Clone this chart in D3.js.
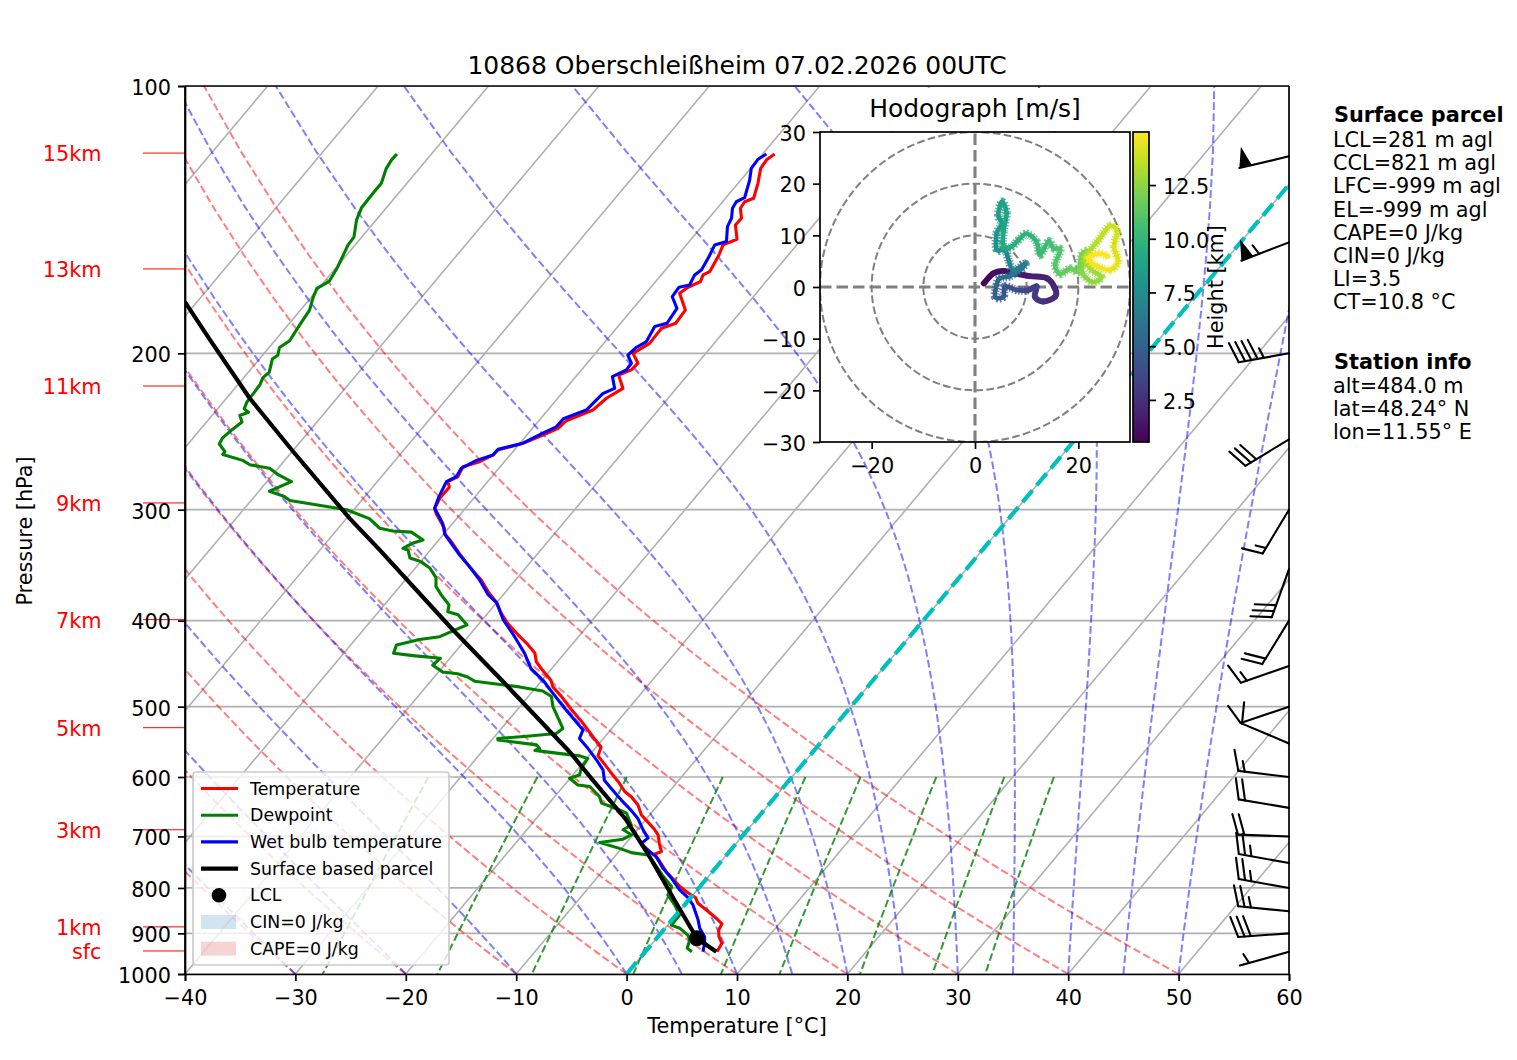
<!DOCTYPE html>
<html>
<head>
<meta charset="utf-8">
<script src="https://cdn.jsdelivr.net/npm/d3@7"></script>
<style>
body { margin: 0; background: #fff; }
text { font-family: "DejaVu Sans", sans-serif; fill: #000; }
</style>
</head>
<body>
<div id="chart"></div>
<script>
// sounding
var tempP = [943.8,923.5,907.8,892,878,862,847,832.5,820,810,797,782,767,747,733,728,713,697,688,674,662,645,631.5,623,607,600,584,568,555,540.5,522,504,487,475,467,455,445,435,424,415,403,392.5,381,371,360,348,337,326,319,315,303,299,291,283,279,275.4,268.4,264.9,260.3,257,252.5,247.2,242.9,238.2,231.7,224.7,219,211.6,208.8,205.2,200,194.9,187.4,185,178.8,171.2,168.5,166.1,163.2,161.8,155,151,148.8,143.4,140.9,137.3,135,133.8,128.7,123.8,121.1,119.3];
var tempT = [6.49,6.3,5.53,4.99,4.83,3.61,2.36,1.09,0.42,-0.63,-1.83,-3.0,-4.18,-5.54,-6.58,-6.15,-6.95,-7.73,-8.41,-9.65,-10.75,-11.82,-13.05,-14.04,-15.4,-16.08,-17.59,-19.17,-19.57,-21.09,-23.0,-25.07,-26.99,-28.5,-29.17,-30.69,-31.91,-32.71,-34.22,-35.61,-37.4,-38.76,-40.1,-41.61,-43.11,-45.17,-46.97,-48.73,-49.97,-50.35,-52.25,-52.78,-53.09,-53.06,-53.6,-53.07,-53.38,-52.25,-51.55,-51.48,-49.73,-48.54,-47.69,-47.51,-45.92,-45.59,-44.85,-46.25,-45.48,-45.39,-46.6,-45.85,-45.92,-45.01,-45.14,-46.93,-46.63,-45.93,-46.21,-45.85,-46.28,-46.68,-45.84,-47.07,-47.04,-47.89,-48.0,-47.45,-48.2,-49.09,-49.2,-48.91];

var wetP = [943.8,923.5,907.8,888,869,836,820,804,780,760,738,728,713,703,688,668,654,637,618,605,589,574,557,543,531,502,483,466.6,453,435.4,417,399,382,374,360,347.8,337.4,320,311,298.9,290,279,275.4,269.5,264,260.3,256.5,252.5,246.5,242,237,231.7,222,219,212.5,208.8,205.2,201,197,194,186.6,185,178,172.7,168.5,167.5,163.2,161,155.7,151,149.7,144,140.9,137.3,135,133.6,127.6,123.8,120.9,119.3];
var wetT = [5.22,4.73,4.23,3.14,2.36,0.76,-0.28,-1.59,-3.22,-4.75,-6.22,-7.21,-8.6,-8.39,-9.47,-10.81,-12.04,-13.7,-15.5,-16.74,-17.65,-19.0,-20.66,-22.17,-22.5,-25.81,-28.0,-29.93,-31.87,-33.61,-35.78,-38.11,-39.97,-41.37,-43.26,-45.17,-46.97,-49.85,-50.89,-52.78,-53.28,-53.74,-53.22,-53.41,-52.63,-51.55,-51.53,-49.73,-48.77,-47.96,-47.93,-46.51,-46.28,-45.6,-46.68,-45.93,-45.99,-46.92,-46.75,-46.27,-46.66,-45.8,-46.03,-47.34,-47.45,-46.66,-46.97,-46.74,-47.06,-47.43,-46.62,-47.67,-47.94,-48.61,-48.76,-48.31,-49.2,-49.94,-50.02,-49.66];

var dewP = [943.8,935.5,915.6,904,888,881,858,836,815,797,774,754,734.5,730,722,711,705,697,688,679.5,659,651,642,631.5,615,612.6,602,597,587,572,568,564,560,557,552,545,543,539.5,536,529,515,500,487,480,475,468,463,459,457,449,441,438,435.4,426,420,417,404.5,394,391,384,374.3,366,358,349,343,340,333,331.6,327,324.5,318,317,314.8,307,300,293,290,286,279,274,269.5,267,264,260,258,253,249,245,239,235,233,231,227,217,213,210,203,201,197,193.6,186,178.8,173,169,166,160,151,148,141.5,137,132,128.7,123.8,121.1,119.3];
var dewT = [4.22,3.54,3.13,2.59,1.33,0.33,0.32,-0.9,-2.26,-2.58,-4.27,-5.66,-7.11,-8.8,-10.19,-12.43,-10.57,-10.14,-11.28,-10.9,-12.24,-13.52,-15.26,-15.92,-17.58,-18.78,-20.04,-19.38,-19.74,-19.9,-20.82,-23.14,-25.3,-25.04,-25.58,-29.44,-29.57,-26.88,-24.66,-24.44,-25.65,-26.99,-27.9,-29.11,-31.52,-36.03,-36.97,-38.13,-39.61,-41.03,-40.87,-43.55,-45.48,-45.86,-44.18,-42.57,-40.99,-42.56,-43.72,-44.14,-45.59,-46.73,-47.37,-48.68,-50.08,-51.25,-52.03,-52.62,-52.09,-51.43,-53.07,-54.86,-56.24,-57.91,-60.65,-66.49,-67.26,-69.05,-67.78,-69.51,-70.77,-72.83,-73.81,-76.06,-76.1,-77.18,-77.34,-77.17,-76.79,-77.48,-76.95,-77.59,-77.86,-78.0,-78.27,-78.11,-78.83,-78.62,-79.06,-78.65,-78.94,-79.18,-79.82,-80.16,-79.58,-79.9,-80.64,-80.7,-81.78,-82.26,-82.31,-82.31,-83.0,-83.17,-83.12];

var parcelP = [943.8,911.6,832.5,737.7,670.8,602,562,470.6,408,333,306.8,258,224.7,192.9,175];
var parcelT = [6.43,3.65,-0.87,-6.83,-11.73,-18.07,-22.06,-33.14,-42.15,-54.6,-59.72,-69.92,-77.9,-86.0,-91.1];
var lclP = 911.6, lclT = 3.65;

// wind barbs
var barbP = [120,150,200,250,300,350,400,450,500,550,600,650,700,750,800,850,900,944];
var barbSpeed = [50,55,45,30,15,30,20,15,10,10,15,20,20,25,25,25,30,5];
var barbDir = [256.7,249,260,238.8,211,199.7,211.6,250.9,251.3,292.9,276.9,279.6,272,280.3,280,275.7,266,254.3];

// hodograph
var hodoU = [1.7,3.5,5.5,7.7,10.6,13.9,15.5,15.5,13.2,11.6,11.9,10.3,8.1,5.8,5.5,3.9,4.2,4.8,6.8,9,9.7,7.4,6.5,5.8,4.2,4.2,5.2,4.5,5.2,6.1,5.5,5.5,7.1,8.4,10,11.9,12.6,14.2,15.2,16.5,15.5,16.5,18.4,20,20.6,21.9,20.6,22.6,24.5,22.6,21.3,23.9,26.1,27.5,26.9,27.7,26.1,23.5,21.9,23.9,25.8];
var hodoV = [0.7,2.6,3.1,2.6,2.1,1.7,-0.3,-1.9,-2.8,-1.9,0.1,-0.6,-0.6,0.1,-1.9,-1.9,0.4,1.7,2.1,3.6,4.5,3.3,5.2,7.2,7.2,10.4,12.3,13.9,16.5,14.3,10.7,7.8,7.8,9.1,10.3,8.8,6.2,8.8,7.5,7.2,4.3,2.5,3.6,3,6.2,6.8,3.3,1,1.9,3.3,5.5,9.1,11.8,10.7,7.8,4.9,3.3,4.1,5.5,6.5,5.9];
var hodoH = [0.5,0.8,1,1.2,1.5,1.8,2,2.2,2.4,2.7,3,3.3,3.6,4,4.3,4.6,5,5.3,5.7,6,6.2,6.6,7,7.3,7.7,8,8.2,8.4,8.6,8.8,9,9.2,9.4,9.6,9.8,10,10.2,10.4,10.6,10.8,11,11.2,11.4,11.7,11.9,12,12.2,12.4,12.6,12.8,13,13.3,13.6,13.8,14,14.2,14.4,14.6,14.7,14.85,14.95];
var hodoRings = [10,20,30];
var heightRange = [0.54,14.97];
var heightTicks = [2.5,5,7.5,10,12.5];

// axis ticks and labels
var tempTicks = [-40,-30,-20,-10,0,10,20,30,40,50,60];
var pressureTicks = [100,200,300,400,500,600,700,800,900,1000];
var isotherms = d3.range(-100,61,10);
var heightLabels = ["15km","13km","11km","9km","7km","5km","3km","1km","sfc"];
var heightP = [119,160.7,217.7,294.8,399,528,688,885,942];

// background thermodynamic lines: start temperatures at 1000 hPa, mixing ratios
var dryStart = d3.range(-40,51,10);
var moistStart = [-40,-30,-20,-10,0,5,10,15,20,25,30,35,40,45,50];
var mixingRatios = [0.0004,0.001,0.002,0.004,0.007,0.01,0.016,0.024,0.032];

var parcelInfo = ["LCL=281 m agl","CCL=821 m agl","LFC=-999 m agl","EL=-999 m agl","CAPE=0 J/kg","CIN=0 J/kg","LI=3.5","CT=10.8 °C"];
var stationInfo = ["alt=484.0 m","lat=48.24° N","lon=11.55° E"];

var width = 1517, height = 1060;
var left = 185, right = 1289, top_ = 86, bottom = 974;
var skew = Math.tan(40 * Math.PI / 180);
var fontSize = 20.8;

var svg = d3.select("#chart").append("svg")
	.attr("width", width).attr("height", height)
	.style("display", "block");

var x = d3.scaleLinear().domain([-40,60]).range([left,right]);
var y = d3.scaleLog().domain([1000,100]).range([bottom,top_]);

function sx(T, p) {
	return x(T) + skew * (bottom - y(p));
}
var line = d3.line().x(d => sx(d[0], d[1])).y(d => y(d[1]));

svg.append("clipPath").attr("id", "plot").append("rect")
	.attr("x", left).attr("y", top_).attr("width", right - left).attr("height", bottom - top_);
var plot = svg.append("g").attr("clip-path", "url(#plot)");

// grid
plot.selectAll(".iso").data(pressureTicks).enter().append("line")
	.attr("x1", left).attr("x2", right)
	.attr("y1", d => y(d)).attr("y2", d => y(d))
	.attr("stroke", "#b0b0b0").attr("stroke-width", 1.7);
plot.selectAll(".isot").data(isotherms).enter().append("line")
	.attr("x1", d => sx(d, 1000)).attr("x2", d => sx(d, 100))
	.attr("y1", y(1000)).attr("y2", y(100))
	.attr("stroke", "#b0b0b0").attr("stroke-width", 1.6);

var levels = d3.range(50).map(i => 1000 - i * 900 / 49);

// dry adiabats
dryStart.forEach(function(t0) {
	var pts = levels.map(p => [(t0 + 273.15) * Math.pow(p / 1000, 0.2857) - 273.15, p]);
	plot.append("path").attr("d", line(pts)).attr("fill", "none")
		.attr("stroke", "red").attr("stroke-opacity", 0.5).attr("stroke-width", 2)
		.attr("stroke-dasharray", "7.7,3.3");
});

// moist adiabats
function moistRate(p, T) {
	var es = 6.112 * Math.exp(17.67 * (T - 273.15) / (T - 29.65));
	var rs = 0.622 * es / (p - es);
	return (287.04 * T + 2.501e6 * rs) / (1005.7 + 2.501e6 * 2.501e6 * rs * 0.622 / (287.04 * T * T)) / p;
}
moistStart.forEach(function(t0) {
	var T = t0 + 273.15, pts = [[t0, 1000]];
	for (var i = 1; i < levels.length; i++) {
		var p = levels[i - 1], h = levels[i] - p;
		var k1 = moistRate(p, T);
		var k2 = moistRate(p + h / 2, T + h / 2 * k1);
		var k3 = moistRate(p + h / 2, T + h / 2 * k2);
		var k4 = moistRate(p + h, T + h * k3);
		T += h / 6 * (k1 + 2 * k2 + 2 * k3 + k4);
		pts.push([T - 273.15, levels[i]]);
	}
	plot.append("path").attr("d", line(pts)).attr("fill", "none")
		.attr("stroke", "blue").attr("stroke-opacity", 0.5).attr("stroke-width", 2)
		.attr("stroke-dasharray", "7.7,3.3");
});

// mixing ratio lines
var mixLevels = d3.range(50).map(i => 600 + i * 400 / 49);
mixingRatios.forEach(function(w) {
	var pts = mixLevels.map(function(p) {
		var e = p * w / (0.622 + w), l = Math.log(e / 6.112);
		return [243.5 * l / (17.67 - l), p];
	});
	plot.append("path").attr("d", line(pts)).attr("fill", "none")
		.attr("stroke", "green").attr("stroke-opacity", 0.8).attr("stroke-width", 2)
		.attr("stroke-dasharray", "7.7,3.3");
});

// sounding
function profile(ps, ts, color, w) {
	plot.append("path").attr("d", line(ps.map((p, i) => [ts[i], p])))
		.attr("fill", "none").attr("stroke", color).attr("stroke-width", w)
		.attr("stroke-linejoin", "round");
}
profile(tempP, tempT, "red", 3.1);
profile(dewP, dewT, "green", 3.1);
profile(wetP, wetT, "blue", 3.1);

plot.append("line")
	.attr("x1", sx(0, 1000)).attr("y1", y(1000)).attr("x2", sx(0, 100)).attr("y2", y(100))
	.attr("stroke", "#00bfbf").attr("stroke-width", 4.2).attr("stroke-dasharray", "15.4,6.6");

profile(parcelP, parcelT, "black", 4.2);
plot.append("circle").attr("cx", sx(lclT, lclP)).attr("cy", y(lclP)).attr("r", 8).attr("fill", "black");

// height ticks
heightP.forEach(function(p, i) {
	svg.append("line").attr("x1", 143).attr("x2", left).attr("y1", y(p)).attr("y2", y(p))
		.attr("stroke", "red").attr("stroke-width", 1);
	svg.append("text").attr("x", 101.5).attr("y", y(p)).attr("dy", "0.4em")
		.attr("text-anchor", "end").style("fill", "red").style("font-size", fontSize + "px")
		.text(heightLabels[i]);
});

// barbs
var staff = 51, barbH = staff * 0.4, barbW = staff * 0.25, barbS = staff * 0.125;
var barbs = svg.append("g");
barbP.forEach(function(p, i) {
	var a = barbDir[i] * Math.PI / 180;
	var dx = Math.sin(a), dy = -Math.cos(a);
	var bx = right, by = y(p);
	var tx = bx + staff * dx, ty = by + staff * dy;
	// point at distance o from the staff end, h off to the side
	function pt(o, h) {
		return [tx - o * dx - h * dy, ty - o * dy + h * dx];
	}
	var g = barbs.append("g");
	g.append("line").attr("x1", bx).attr("y1", by).attr("x2", tx).attr("y2", ty)
		.attr("stroke", "black").attr("stroke-width", 2.1).attr("stroke-linecap", "round");
	var v = barbSpeed[i], off = 0;
	var flags = Math.floor(v / 50);
	v -= flags * 50;
	var full = Math.floor(v / 10);
	v -= full * 10;
	var half = v >= 5 ? 1 : 0;
	for (var f = 0; f < flags; f++) {
		if (off != 0) off -= barbS / 2;
		g.append("polygon").attr("fill", "black")
			.attr("points", [pt(off, 0), pt(off + barbW / 2, barbH), pt(off + barbW, 0)].join(" "));
		off += barbW + barbS;
	}
	function tick(o, h, along) {
		var a0 = pt(o, 0), a1 = pt(o - along, h);
		g.append("line").attr("x1", a0[0]).attr("y1", a0[1]).attr("x2", a1[0]).attr("y2", a1[1])
			.attr("stroke", "black").attr("stroke-width", 2.1).attr("stroke-linecap", "round");
	}
	for (var b = 0; b < full; b++) {
		tick(off, barbH, barbW / 2);
		off += barbS;
	}
	if (half) {
		if (off == 0) off = 1.5 * barbS;
		tick(off, barbH / 2, barbW / 4);
	}
});

// axes
var minus = d => String(d).replace("-", "\u2212");
function styleAxis(g, size) {
	g.selectAll("text").style("font-size", size + "px");
	g.selectAll("line").attr("stroke-width", 1.7).attr("stroke", "#000");
	g.selectAll("path").attr("stroke-width", 1.7).attr("stroke", "#000");
}
svg.append("line").attr("x1", left).attr("x2", left).attr("y1", top_).attr("y2", bottom).attr("stroke", "#000").attr("stroke-width", 1.7);
svg.append("line").attr("x1", right).attr("x2", right).attr("y1", top_).attr("y2", bottom).attr("stroke", "#000").attr("stroke-width", 1.7);
svg.append("line").attr("x1", left).attr("x2", right).attr("y1", top_).attr("y2", top_).attr("stroke", "#000").attr("stroke-width", 1.7);
var gx = svg.append("g").attr("transform", `translate(0,${bottom})`)
	.call(d3.axisBottom(x).tickValues(tempTicks).tickFormat(minus).tickSize(7).tickPadding(9));
styleAxis(gx, fontSize);
var gy = svg.append("g").attr("transform", `translate(${left},0)`)
	.call(d3.axisLeft(y).tickValues(pressureTicks).tickFormat(d => d).tickSize(7).tickPadding(7));
styleAxis(gy, fontSize);
gy.selectAll("text").attr("dy", "0.4em");

svg.append("text").attr("x", 737).attr("y", 1033).attr("text-anchor", "middle")
	.style("font-size", fontSize + "px").text("Temperature [°C]");
svg.append("text").attr("transform", "translate(32,531) rotate(-90)").attr("text-anchor", "middle")
	.style("font-size", fontSize + "px").text("Pressure [hPa]");
svg.append("text").attr("x", 737).attr("y", 74).attr("text-anchor", "middle")
	.style("font-size", "25px").text("10868 Oberschleißheim 07.02.2026 00UTC");

// legend
var legend = svg.append("g");
legend.append("rect").attr("x", 193).attr("y", 772).attr("width", 256).attr("height", 193).attr("rx", 3)
	.attr("fill", "#fff").attr("fill-opacity", 0.8).attr("stroke", "#ccc").attr("stroke-width", 1.7);
var legendNames = ["Temperature","Dewpoint","Wet bulb temperature","Surface based parcel","LCL","CIN=0 J/kg","CAPE=0 J/kg"];
var legendColors = ["red","green","blue","black","black","#1f77b4","#d62728"];
legendNames.forEach(function(name, i) {
	var ly = 788.5 + i * 26.7;
	if (i < 4) {
		legend.append("line").attr("x1", 201).attr("x2", 238).attr("y1", ly).attr("y2", ly)
			.attr("stroke", legendColors[i]).attr("stroke-width", i == 3 ? 4.2 : 3.1);
	} else if (i == 4) {
		legend.append("circle").attr("cx", 219).attr("cy", ly).attr("r", 7.3).attr("fill", "black");
	} else {
		legend.append("rect").attr("x", 201).attr("y", ly - 7).attr("width", 35).attr("height", 14)
			.attr("fill", legendColors[i]).attr("fill-opacity", 0.2);
	}
	legend.append("text").attr("x", 250).attr("y", ly).attr("dy", "0.35em")
		.style("font-size", "17.4px").text(name);
});

// hodograph inset
var hx = d3.scaleLinear().domain([-30,30]).range([820,1130]);
var hy = d3.scaleLinear().domain([-30,30]).range([442,132]);
svg.append("clipPath").attr("id", "hodo").append("rect")
	.attr("x", 820).attr("y", 132).attr("width", 310).attr("height", 310);
svg.append("rect").attr("x", 820).attr("y", 132).attr("width", 310).attr("height", 310).attr("fill", "#fff");
var hodo = svg.append("g").attr("clip-path", "url(#hodo)");
hodoRings.forEach(function(r) {
	hodo.append("circle").attr("cx", hx(0)).attr("cy", hy(0)).attr("r", hx(r) - hx(0))
		.attr("fill", "none").attr("stroke", "gray").attr("stroke-width", 2)
		.attr("stroke-dasharray", "7.7,3.3");
});
hodo.append("line").attr("x1", hx(-30)).attr("x2", hx(30)).attr("y1", hy(0)).attr("y2", hy(0))
	.attr("stroke", "gray").attr("stroke-width", 3.1).attr("stroke-dasharray", "11.5,5");
hodo.append("line").attr("x1", hx(0)).attr("x2", hx(0)).attr("y1", hy(-30)).attr("y2", hy(30))
	.attr("stroke", "gray").attr("stroke-width", 3.1).attr("stroke-dasharray", "11.5,5");
var hcolor = d3.scaleSequential(d3.interpolateViridis).domain(heightRange);
var n = hodoU.length;
function hp(i) {
	var j = Math.max(0, Math.min(n - 1, i));
	return [hx(hodoU[j]), hy(hodoV[j])];
}
for (var i = 1; i < n; i++) {
	// one rounded piece between two readings, so each can take its own colour
	var p0 = hp(i - 2), p1 = hp(i - 1), p2 = hp(i), p3 = hp(i + 1);
	var c1 = [p1[0] + (p2[0] - p0[0]) / 6, p1[1] + (p2[1] - p0[1]) / 6];
	var c2 = [p2[0] - (p3[0] - p1[0]) / 6, p2[1] - (p3[1] - p1[1]) / 6];
	var seg = `M${p1}C${c1} ${c2} ${p2}`;
	// core of the track
	hodo.append("path").attr("d", seg).attr("fill", "none")
		.attr("stroke", hcolor(hodoH[i])).attr("stroke-width", i < 12 ? 6 : 4.6).attr("stroke-linecap", "round");
	// hatched edge from the markers
	if (i >= 12) {
		hodo.append("path").attr("d", seg).attr("fill", "none")
			.attr("stroke", hcolor(hodoH[i])).attr("stroke-width", 8.5).attr("stroke-opacity", 0.8)
			.attr("stroke-dasharray", "1.3,1.5");
	}
}
svg.append("rect").attr("x", 820).attr("y", 132).attr("width", 310).attr("height", 310)
	.attr("fill", "none").attr("stroke", "#000").attr("stroke-width", 1.7);
var hgx = svg.append("g").attr("transform", "translate(0,442)")
	.call(d3.axisBottom(hx).tickValues([-20,0,20]).tickFormat(minus).tickSize(7).tickPadding(9));
styleAxis(hgx, fontSize);
hgx.select(".domain").remove();
var hgy = svg.append("g").attr("transform", "translate(820,0)")
	.call(d3.axisLeft(hy).tickValues(d3.range(-30,31,10)).tickFormat(minus).tickSize(7).tickPadding(7));
styleAxis(hgy, fontSize);
hgy.selectAll("text").attr("dy", "0.4em");
hgy.select(".domain").remove();
// title sits on a white panel, the lines do not show through it
svg.append("rect").attr("x", 850).attr("y", 88).attr("width", 250).attr("height", 43).attr("fill", "#fff");
svg.append("text").attr("x", 975).attr("y", 117).attr("text-anchor", "middle")
	.style("font-size", "25px").text("Hodograph [m/s]");

// colorbar
var grad = svg.append("defs").append("linearGradient").attr("id", "viridis")
	.attr("x1", 0).attr("x2", 0).attr("y1", 1).attr("y2", 0);
d3.range(0, 1.01, 0.1).forEach(function(t) {
	grad.append("stop").attr("offset", t).attr("stop-color", d3.interpolateViridis(t));
});
svg.append("rect").attr("x", 1133).attr("y", 132).attr("width", 16).attr("height", 310)
	.attr("fill", "url(#viridis)").attr("stroke", "#000").attr("stroke-width", 1.7);
var cb = d3.scaleLinear().domain(heightRange).range([442,132]);
var gc = svg.append("g").attr("transform", "translate(1149,0)")
	.call(d3.axisRight(cb).tickValues(heightTicks).tickFormat(d3.format(".1f")).tickSize(7).tickPadding(7));
styleAxis(gc, fontSize);
gc.selectAll("text").attr("dy", "0.4em");
gc.select(".domain").remove();
svg.append("text").attr("transform", "translate(1223,287) rotate(-90)").attr("text-anchor", "middle")
	.style("font-size", fontSize + "px").text("Height [km]");

// text on the right
var info = svg.append("g");
info.append("text").attr("x", 1334).attr("y", 122).style("font-size", fontSize + "px").style("font-weight", "bold").text("Surface parcel");
parcelInfo.forEach(function(t, i) {
	info.append("text").attr("x", 1333).attr("y", 147 + i * 23.2).style("font-size", fontSize + "px").text(t);
});
info.append("text").attr("x", 1334).attr("y", 369).style("font-size", fontSize + "px").style("font-weight", "bold").text("Station info");
stationInfo.forEach(function(t, i) {
	info.append("text").attr("x", 1333).attr("y", 392.5 + i * 23.2).style("font-size", fontSize + "px").text(t);
});
</script>
</body>
</html>
